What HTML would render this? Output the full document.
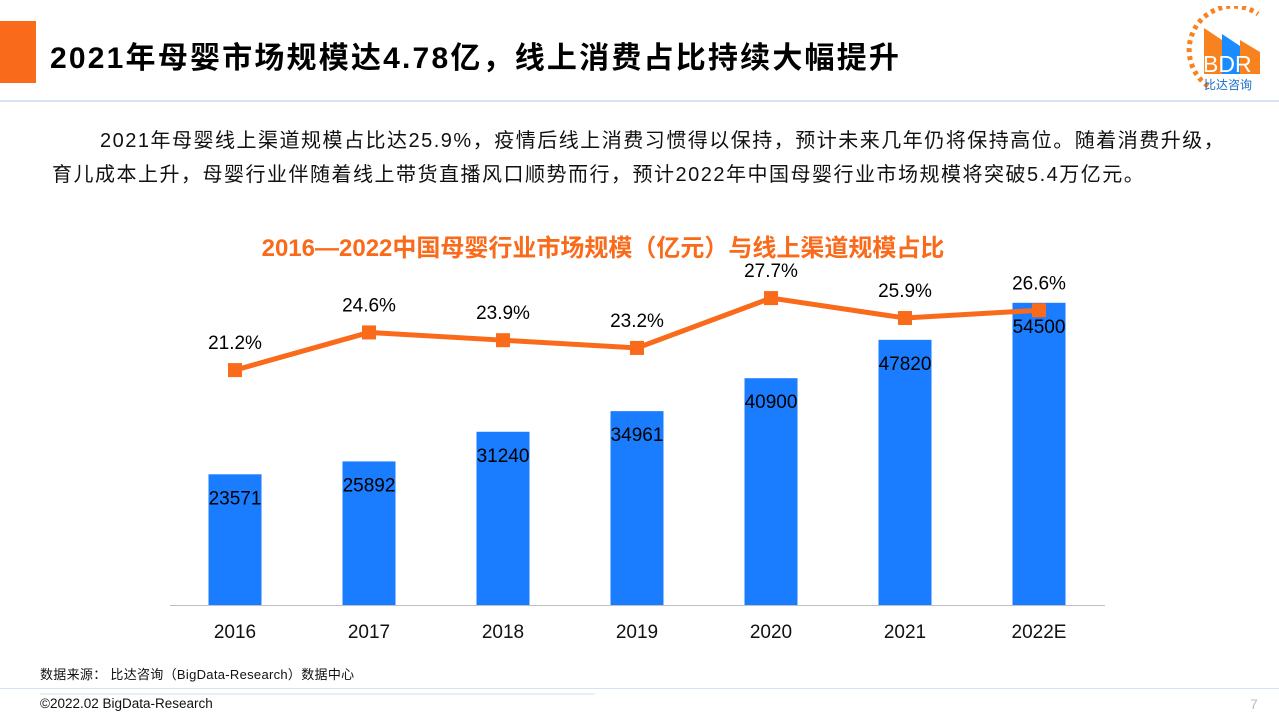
<!DOCTYPE html>
<html><head><meta charset="utf-8"><style>
body{margin:0;width:1279px;height:720px;position:relative;background:#fff;font-family:"Liberation Sans","Noto Sans CJK SC",sans-serif;overflow:hidden}
.abs{position:absolute}
</style></head><body>
<div class="abs" style="left:0;top:21px;width:36px;height:62px;background:#f96a1b"></div>
<div class="abs" style="left:50px;top:33px;font-size:30px;letter-spacing:2.2px;font-weight:bold;color:#000;white-space:nowrap">2021年母婴市场规模达4.78亿，线上消费占比持续大幅提升</div>
<div class="abs" style="left:0;top:100px;width:1279px;height:2px;background:#d5e3f3"></div>
<svg class="abs" style="left:1180px;top:6px" width="96" height="88" viewBox="0 0 96 88">
<path d="M28 80 A40 40 0 0 1 78 8" fill="none" stroke="#f7821e" stroke-width="5" stroke-dasharray="4 4"/>
<polygon points="24,22 42,34 42,68 24,68" fill="#f7821e"/>
<polygon points="42,28 60,40 60,68 42,68" fill="#1a8cff"/>
<polygon points="60,34 80,46 80,68 60,68" fill="#f7821e"/>
<text x="23" y="66" font-size="23" fill="#fff" font-family="Liberation Sans">BDR</text>
<text x="24" y="83" font-size="12" fill="#1a6cc8" font-family="Noto Sans CJK SC">比达咨询</text>
</svg>
<div class="abs" style="left:52px;top:124px;width:1210px;font-size:20px;letter-spacing:1.5px;line-height:34px;color:#111;white-space:nowrap"><span style="padding-left:48px">2021年母婴线上渠道规模占比达25.9%，疫情后线上消费习惯得以保持，预计未来几年仍将保持高位。随着消费升级，</span><br>育儿成本上升，母婴行业伴随着线上带货直播风口顺势而行，预计2022年中国母婴行业市场规模将突破5.4万亿元。</div>
<div class="abs" style="left:0;width:1206px;top:228px;text-align:center;font-size:24px;font-weight:bold;color:#f96a1b">2016—2022中国母婴行业市场规模（亿元）与线上渠道规模占比</div>
<svg class="abs" id="chart" style="left:0;top:0" width="1279" height="720"></svg>
<div class="abs" style="left:40px;top:664px;font-size:13px;letter-spacing:0.3px;color:#111">数据来源： 比达咨询（BigData-Research）数据中心</div>
<div class="abs" style="left:0;top:688px;width:1279px;height:1px;background:#d5e3f3"></div>
<div class="abs" style="left:40px;top:693px;width:555px;height:2px;background:#eceef0"></div>
<div class="abs" style="left:40px;top:696px;font-size:13.5px;color:#111">©2022.02 BigData-Research</div>
<div class="abs" style="left:1250px;top:696px;font-size:14px;color:#bbb">7</div>
<script>
const categories=["2016","2017","2018","2019","2020","2021","2022E"];
const marketSize=[23571,25892,31240,34961,40900,47820,54500];
const onlineShare=[21.2,24.6,23.9,23.2,27.7,25.9,26.6];
const shareLabels=["21.2%","24.6%","23.9%","23.2%","27.7%","25.9%","26.6%"];
const NS="http://www.w3.org/2000/svg";
const svg=document.getElementById('chart');
const base=605, x0=235, step=134, bw=53;
const xPos=i=>x0+i*step;
const yBar=v=>base-v*0.005545;
const yLine=v=>base-v*11.08;
function mk(t,a){const e=document.createElementNS(NS,t);for(const k in a)e.setAttribute(k,a[k]);svg.appendChild(e);return e;}
const ax=mk('line',{x1:170,x2:1105,y1:base+0.5,y2:base+0.5,stroke:'#bfbfbf','stroke-width':1});


categories.forEach((c,i)=>{
 const r=mk('rect',{x:xPos(i)-bw/2,y:yBar(marketSize[i]),width:bw,height:base-yBar(marketSize[i]),fill:'#1a7cff'});
 
 
 const t=mk('text',{x:xPos(i),y:yBar(marketSize[i])+30,'text-anchor':'middle','font-size':19,fill:'#000','font-family':'Liberation Sans'});
 t.textContent=marketSize[i];
 
 
 const l=mk('text',{x:xPos(i),y:638,'text-anchor':'middle','font-size':19,fill:'#111','font-family':'Liberation Sans'});
 l.textContent=c;
 
 
});
const pts=onlineShare.map((v,i)=>xPos(i)+','+yLine(v)).join(' ');
const pl=mk('polyline',{points:pts,fill:'none',stroke:'#f96a1b','stroke-width':5});


onlineShare.forEach((v,i)=>{
 const m=mk('rect',{x:xPos(i)-7,y:yLine(v)-7,width:14,height:14,fill:'#f96a1b'});
 
 
 const t=mk('text',{x:xPos(i),y:yLine(v)-21,'text-anchor':'middle','font-size':19,fill:'#000','font-family':'Liberation Sans'});
 t.textContent=shareLabels[i];
 
 
});
</script>
</body></html>
